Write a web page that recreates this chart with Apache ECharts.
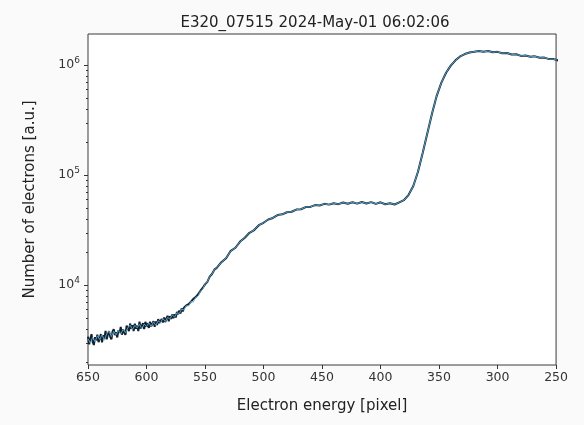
<!DOCTYPE html>
<html>
<head>
<meta charset="utf-8">
<script src="https://cdn.jsdelivr.net/npm/echarts@6/dist/echarts.min.js"></script>
<style>
html, body { margin: 0; padding: 0; background: #fafafb; }
#chart { width: 571px; height: 425px; }
</style>
</head>
<body>
<div id="chart"></div>
<script>
// noisy low-energy tail, one sample per pixel
var xFine = [650,649,648,647,646,645,644,643,642,641,640,639,638,637,636,635,634,633,632,631,
  630,629,628,627,626,625,624,623,622,621,620,619,618,617,616,615,614,613,612,611,
  610,609,608,607,606,605,604,603,602,601,600,599,598,597,596,595,594,593,592,591,
  590,589,588,587,586,585,584,583,582,581,580,579,578,577,576,575,574,573,572,571,
  570,569,568,567,566,565,564,563,562,561,560,559,558,557,556,555,554,553,552,551];
var electronsFine = [3390,2891,3250,3574,3048,2850,3357,3140,3530,3029,
  3273,3586,3014,3495,3258,3824,3215,3562,3812,3377,
  3205,3780,3970,3511,3732,3338,3890,3671,4159,3535,
  3962,3694,3525,4281,4038,3806,4465,3998,4304,3812,
  4449,4022,4274,3819,4656,4022,4278,4491,3971,4629,
  4187,4502,4073,4647,4207,4443,4687,4163,4655,4330,
  4900,4507,4395,4915,4571,5057,4602,4970,5251,4682,
  5199,4920,5407,4995,5419,5070,5701,5419,5847,5496,
  6136,5768,6221,6053,6531,6309,6686,6532,7077,6918,
  7498,7245,7760,7631,8220,8140,8828,8861,9401,9539];

// full spectrum, coarser sampling
var xPixel = [650,648,646,644,642,640,638,636,634,632,630,628,626,624,622,620,618,616,614,612,
  610,608,606,604,602,600,598,596,594,592,590,588,586,584,582,580,578,576,574,572,
  570,568,566,564,562,560,558,556,554,552,550,548,546,544,542,540,
  536,532,528,524,520,516,512,508,504,500,496,492,488,484,480,476,472,468,464,460,
  456,452,448,444,440,436,432,428,424,420,416,412,408,404,400,396,392,388,384,380,
  376,372,368,364,360,356,352,348,344,340,336,332,328,324,320,316,312,308,304,300,
  296,292,288,284,280,276,272,268,264,260,256,252,248,244];
var electrons = [3240,2970,3340,3060,3450,3200,3540,3150,3610,3810,
  3400,3790,3520,3890,3580,3960,3690,4080,4320,3930,
  4300,4080,4400,3990,4410,4190,4520,4210,4630,4300,
  4730,4550,4960,4660,5070,4910,5350,5120,5600,5500,
  6030,5940,6490,6460,7080,7000,7730,7890,8790,9160,
  10140,10690,11910,12590,13800,14320,
  16140,17540,20460,21830,24830,26920,29850,31620,34990,36810,
  39450,40740,43250,43950,45920,46340,48530,48870,51170,51290,
  53330,52840,54700,53830,55460,54330,56230,54830,56620,54950,
  56890,55080,56750,54700,56490,54200,55460,53950,56490,59160,
  66070,79430,107200,158500,239900,363100,524800,691800,851100,988600,
  1104000,1197000,1259000,1300000,1321000,1343000,1318000,1340000,1306000,1318000,
  1279000,1288000,1247000,1253000,1211000,1222000,1189000,1199000,1164000,1169000,
  1132000,1132000,1099000,1096000];

var yMajorTicks = [10000, 100000, 1000000];
var yMinorTicks = [2000,3000,4000,5000,6000,7000,8000,9000,
  20000,30000,40000,50000,60000,70000,80000,90000,
  200000,300000,400000,500000,600000,700000,800000,900000];

var xMin = 250, xMax = 650;
var yMin = 1875, yMax = 1915000;

var blueData = [];
for (var i = 0; i < xPixel.length; i++) {
  blueData.push([xPixel[i], electrons[i]]);
}
var blackData = [];
for (var j = 0; j < xFine.length; j++) {
  blackData.push([xFine[j], electronsFine[j]]);
}
for (var k = 0; k < xPixel.length; k++) {
  if (xPixel[k] <= 550) blackData.push([xPixel[k], electrons[k]]);
}
var tickData = [];
yMajorTicks.forEach(function (v) { tickData.push([xMax, v]); });
yMinorTicks.forEach(function (v) { tickData.push([xMax, v]); });

var chartDom = document.getElementById('chart');
var myChart = echarts.init(chartDom);
var option;

option = {
  backgroundColor: '#fafafb',
  animation: false,
  title: {
    text: 'E320_07515 2024-May-01 06:02:06',
    left: 310,
    textAlign: 'center',
    top: 11,
    textStyle: { fontFamily: 'DejaVu Sans', fontSize: 15, fontWeight: 'normal', color: '#222' }
  },
  grid: {
    left: 88, right: 12, top: 34, bottom: 60,
    show: true, borderColor: '#3a3a3a', borderWidth: 1, backgroundColor: '#ffffff'
  },
  xAxis: {
    type: 'value',
    inverse: true,
    min: xMin, max: xMax, interval: 50,
    name: 'Electron energy [pixel]',
    nameLocation: 'middle',
    nameGap: 34,
    nameTextStyle: { fontFamily: 'DejaVu Sans', fontSize: 15, color: '#222' },
    axisLine: { show: false },
    axisTick: { show: true, length: 4, lineStyle: { color: '#333' } },
    axisLabel: { fontFamily: 'DejaVu Sans', fontSize: 12.5, color: '#333', margin: 6 },
    splitLine: { show: false }
  },
  yAxis: {
    type: 'log',
    logBase: 10,
    min: yMin, max: yMax,
    name: 'Number of electrons [a.u.]',
    nameLocation: 'middle',
    nameGap: 50,
    nameTextStyle: { fontFamily: 'DejaVu Sans', fontSize: 15, color: '#222' },
    axisLine: { show: false },
    axisTick: { show: false },
    splitLine: { show: false },
    axisLabel: {
      margin: 8,
      showMinLabel: false,
      showMaxLabel: false,
      formatter: function (v) {
        var e = Math.log10(v);
        if (Math.abs(e - Math.round(e)) < 1e-6) return '{b|10}{s|' + Math.round(e) + '}';
        return '';
      },
      rich: {
        b: { fontFamily: 'DejaVu Sans', fontSize: 12.5, color: '#333' },
        s: { fontFamily: 'DejaVu Sans', fontSize: 9, color: '#333', padding: [0, 0, 8, 0] }
      }
    }
  },
  series: [
    {
      type: 'line',
      data: blackData,
      showSymbol: false,
      lineStyle: { color: '#15212d', width: 2 },
      z: 2
    },
    {
      type: 'line',
      data: blueData,
      showSymbol: false,
      lineStyle: { color: '#5eaed8', width: 0.9 },
      z: 3
    },
    {
      type: 'custom',
      data: tickData,
      silent: true,
      clip: false,
      z: 5,
      renderItem: function (params, api) {
        var v = api.value(1);
        var p = api.coord([api.value(0), v]);
        var e = Math.log10(v);
        var len = Math.abs(e - Math.round(e)) < 1e-6 ? 4 : 2;
        var y = Math.round(p[1]) + 0.5;
        return {
          type: 'line',
          shape: { x1: p[0] - len, y1: y, x2: p[0], y2: y },
          style: { stroke: '#333', lineWidth: 1 }
        };
      }
    }
  ]
};

option && myChart.setOption(option);
</script>
</body>
</html>
